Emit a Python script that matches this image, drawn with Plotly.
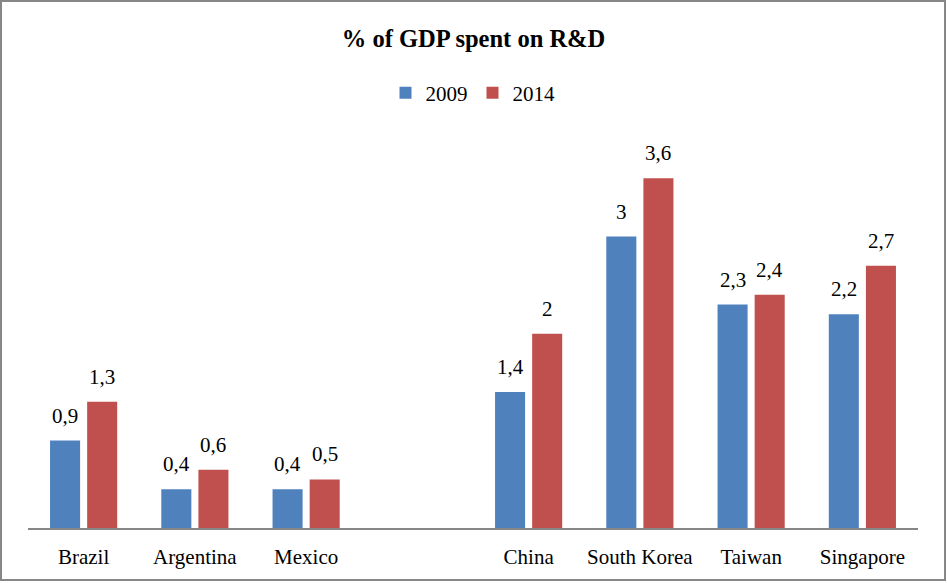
import plotly.graph_objects as go

categories = ["Brazil", "Argentina", "Mexico", " ", "China", "South Korea", "Taiwan", "Singapore"]
values_2009 = [0.9, 0.4, 0.4, None, 1.4, 3.0, 2.3, 2.2]
values_2014 = [1.3, 0.6, 0.5, None, 2.0, 3.6, 2.4, 2.7]
series_names = ["2009", "2014"]
colors = ["#4F81BD", "#C0504D"]

def fmt(v):
    return ("%g" % v).replace(".", ",")

W, H = 947, 583
ml, mr, mt, mb = 28, 29, 120, 55
pw, ph = W - ml - mr, H - mt - mb
bargap, bargroupgap = 0.333, 0.19
serif = "Liberation Serif, Times New Roman, serif"
label_font = dict(family=serif, size=21, color="#000000")

fig = go.Figure()
slot_px = pw / len(categories)
sub_px = slot_px * (1 - bargap) / 2
for i, (name, vals, col) in enumerate(zip(series_names, [values_2009, values_2014], colors)):
    fig.add_trace(go.Bar(
        name=name, x=categories, y=vals, marker=dict(color=col, line=dict(width=0)),
    ))
    shift = (i - 0.5) * sub_px
    for c, v in zip(categories, vals):
        if v is None:
            continue
        fig.add_annotation(x=c, y=v, xref="x", yref="y", text=fmt(v), showarrow=False,
                           xshift=shift, yshift=11, yanchor="bottom", font=label_font)

# outer frame
fig.add_shape(type="rect", xref="paper", yref="paper",
              x0=(1 - ml) / pw, x1=(W - 2 - ml) / pw,
              y0=(H - mb - (H - 3)) / ph, y1=(H - mb - 1) / ph,
              line=dict(color="#878787", width=2), fillcolor="rgba(0,0,0,0)", layer="below")

fig.update_layout(
    width=W, height=H,
    margin=dict(l=ml, r=mr, t=mt, b=mb),
    paper_bgcolor="white", plot_bgcolor="white",
    barmode="group", bargap=bargap, bargroupgap=bargroupgap,
    title=dict(text="<b>% of GDP spent on R&D</b>", x=0.5, xanchor="center",
               y=1 - 38 / H, yanchor="middle",
               font=dict(family=serif, size=24.5, color="#000000")),
    legend=dict(orientation="h", x=0.5, xanchor="center", y=(H - mb - 93) / ph, yanchor="middle",
                font=label_font, itemwidth=30, traceorder="normal"),
    xaxis=dict(type="category", categoryorder="array", categoryarray=categories,
               showline=True, linecolor="#868686", linewidth=2, ticks="", showgrid=False,
               tickfont=label_font, ticklabelstandoff=9, zeroline=False),
    yaxis=dict(visible=False, range=[0, 4.2], showgrid=False, zeroline=False),
    showlegend=True,
)

fig.write_html("out.html", config={"displayModeBar": False},
               post_script="document.body.style.margin='0';document.body.style.padding='0';")
